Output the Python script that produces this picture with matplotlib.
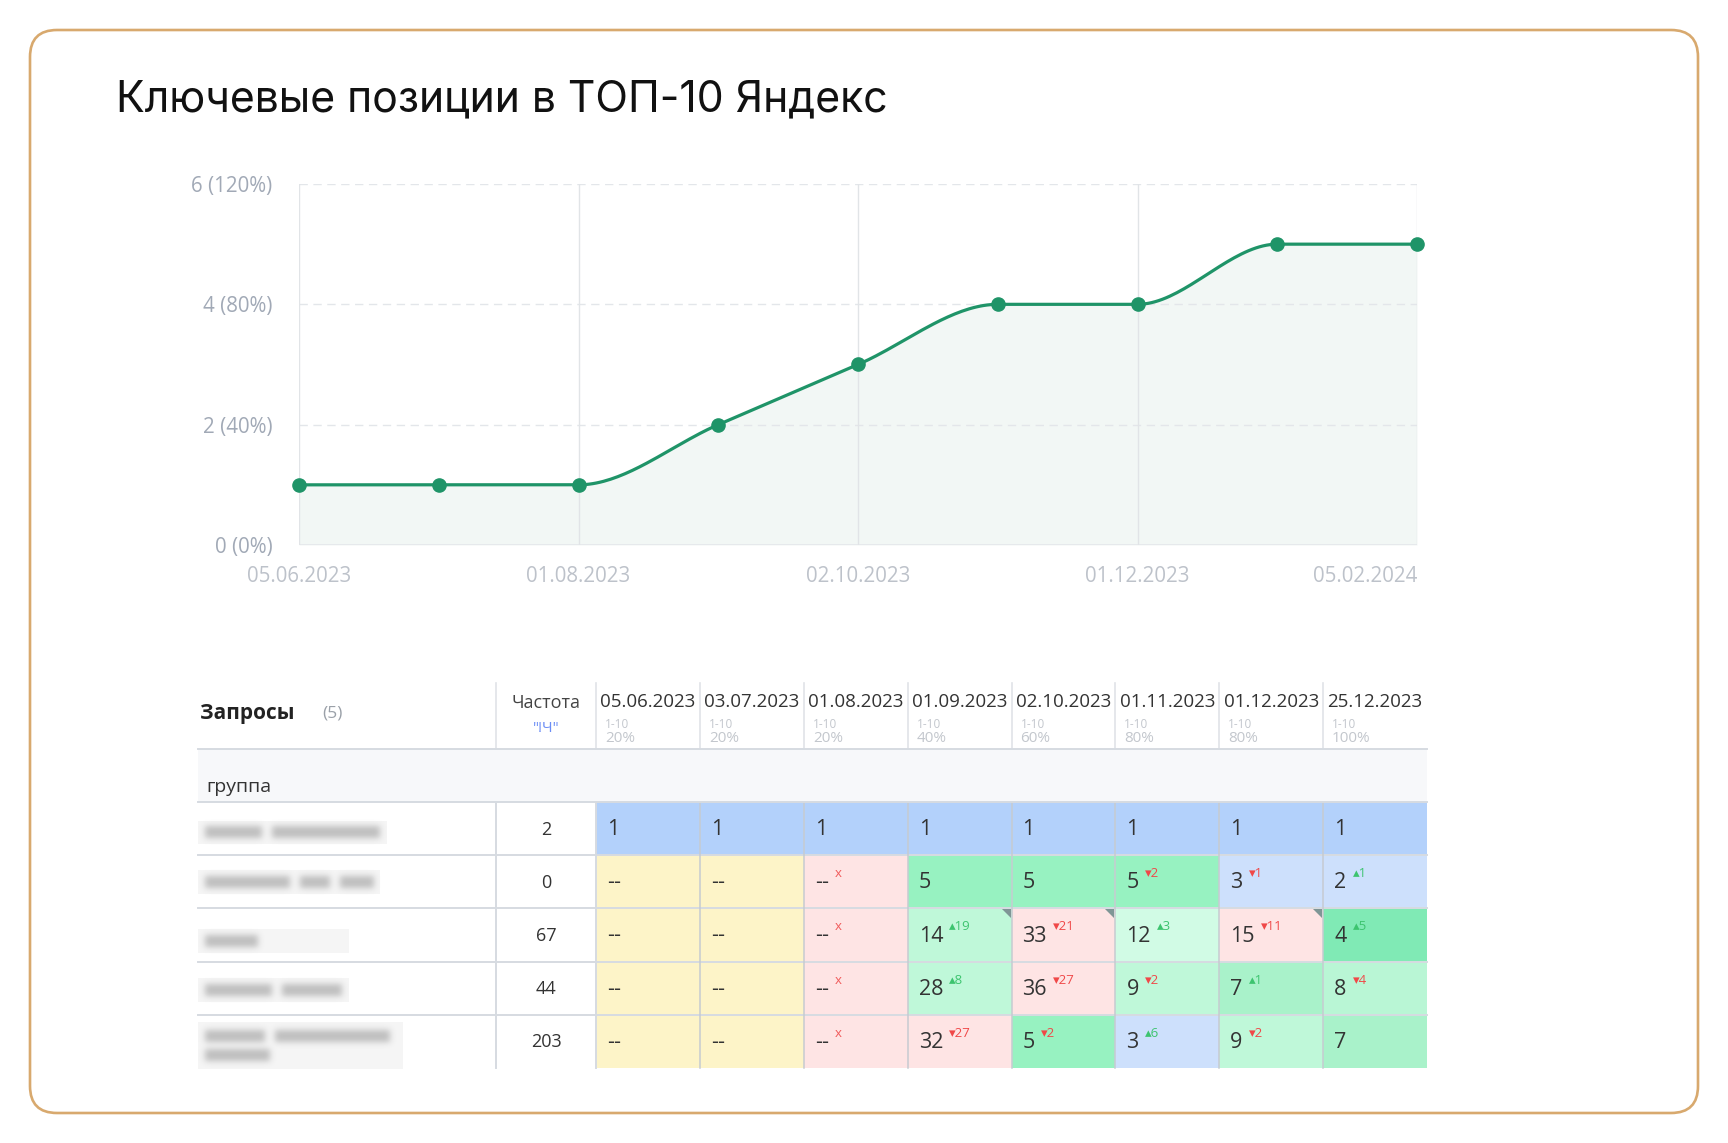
import numpy as np
import matplotlib
matplotlib.use("Agg")
import matplotlib.pyplot as plt
from matplotlib.patches import FancyBboxPatch, Rectangle, Polygon

plt.rcParams['font.family'] = ['Open Sans', 'DejaVu Sans']

# ---- данные графика
chart_dates = ['05.06.2023', '03.07.2023', '01.08.2023', '01.09.2023', '02.10.2023',
               '01.11.2023', '01.12.2023', '25.12.2023', '05.02.2024']
chart_top10 = [1, 1, 1, 2, 3, 4, 4, 5, 5]
total_queries = 5
x_tick_idx = [0, 2, 4, 6, 8]
y_ticks = [0, 2, 4, 6]

# ---- данные таблицы
table_dates = ['05.06.2023', '03.07.2023', '01.08.2023', '01.09.2023',
               '02.10.2023', '01.11.2023', '01.12.2023', '25.12.2023']
table_pct = ['20%', '20%', '20%', '40%', '60%', '80%', '80%', '100%']
freq = [2, 0, 67, 44, 203]
positions = [
    ['1', '1', '1', '1', '1', '1', '1', '1'],
    ['--', '--', '--', '5', '5', '5', '3', '2'],
    ['--', '--', '--', '14', '33', '12', '15', '4'],
    ['--', '--', '--', '28', '36', '9', '7', '8'],
    ['--', '--', '--', '32', '5', '3', '9', '7'],
]
changes = [
    ['', '', '', '', '', '', '', ''],
    ['', '', 'x', '', '', '-2', '-1', '+1'],
    ['', '', 'x', '+19', '-21', '+3', '-11', '+5'],
    ['', '', 'x', '+8', '-27', '-2', '+1', '-4'],
    ['', '', 'x', '-27', '-2', '+6', '-2', ''],
]
cell_kind = [
    ['top1'] * 8,
    ['new', 'new', 'lost', 'g5', 'g5', 'g5', 'b3', 'b3'],
    ['new', 'new', 'lost', 'g15', 'lost', 'g12', 'lost', 'g4'],
    ['new', 'new', 'lost', 'g15', 'lost', 'g15', 'g7', 'g8'],
    ['new', 'new', 'lost', 'lost', 'g5', 'b3', 'g15', 'g7'],
]
note_cells = [(2, 3), (2, 4), (2, 6)]

kind_color = {'top1': '#B3D1FB', 'new': '#FDF4C8', 'lost': '#FEE4E4',
              'g5': '#97F2C1', 'b3': '#CDE0FC', 'g15': '#BFF8D9',
              'g12': '#D1FBE5', 'g4': '#80EAB5', 'g7': '#A9F2CA', 'g8': '#B9F6D5'}

W, H = 1728, 1143
fig = plt.figure(figsize=(W / 100, H / 100), dpi=100)
bg = fig.add_axes([0, 0, 1, 1])
bg.axis('off')

# рамка
bg.add_patch(FancyBboxPatch((30, 30), 1668, 1083, boxstyle='round,pad=0,rounding_size=27',
                            ec='#D8A96E', fc='none', lw=1.9))
bg.text(116, 100, 'Ключевые позиции в ТОП-10 Яндекс', fontsize=30.8,
        family=['Inter', 'DejaVu Sans'], color='#111111', va='center', ha='left')


def monotone_curve(x, y, n=40):
    x = np.asarray(x, float)
    y = np.asarray(y, float)
    h = np.diff(x)
    d = np.diff(y) / h
    m = np.zeros_like(y)
    m[0], m[-1] = d[0], d[-1]
    for i in range(1, len(y) - 1):
        if d[i - 1] * d[i] > 0:
            m[i] = 2 / (1 / d[i - 1] + 1 / d[i])
    xs, ys = [], []
    for i in range(len(h)):
        t = np.linspace(0, 1, n)
        h00 = 2 * t**3 - 3 * t**2 + 1
        h10 = t**3 - 2 * t**2 + t
        h01 = -2 * t**3 + 3 * t**2
        h11 = t**3 - t**2
        xs.append(x[i] + t * h[i])
        ys.append(h00 * y[i] + h10 * h[i] * m[i] + h01 * y[i + 1] + h11 * h[i] * m[i + 1])
    return np.concatenate(xs), np.concatenate(ys)


# ---- график
L, R, T, B = 299, 1417, 184, 545
ax = fig.add_axes([L / W, 1 - B / H, (R - L) / W, (B - T) / H])
ax.set_facecolor('none')
x = np.arange(len(chart_top10))
xs, ys = monotone_curve(x, chart_top10)
ax.fill_between(xs, ys, 0, color='#F2F7F5', lw=0, zorder=0.5)
for yv in y_ticks[1:]:
    ax.axhline(yv, color='#E3E6EA', lw=1, ls=(0, (6, 4)), zorder=1)
ax.axhline(0, color='#E6E9EC', lw=1.4, zorder=1)
for xi in x_tick_idx:
    ax.axvline(xi, color='#E1E4E7', lw=1, zorder=1)
ax.plot(xs, ys, color='#1F9468', lw=2.3, zorder=3, clip_on=False)
ax.plot(x, chart_top10, 'o', ms=9.5, color='#1F9468', zorder=4, clip_on=False)
ax.set_xlim(0, len(chart_top10) - 1)
ax.set_ylim(0, 6)
for s in ax.spines.values():
    s.set_visible(False)
ax.set_yticks(y_ticks)
ax.set_yticklabels([f'{v} ({v * 100 // total_queries}%)' for v in y_ticks])
ax.set_xticks(x_tick_idx)
ax.set_xticklabels([chart_dates[i] for i in x_tick_idx])
ax.tick_params(axis='y', length=0, pad=19, labelsize=14.8, labelcolor='#A1A9B6')
ax.tick_params(axis='x', length=0, pad=15, labelsize=14.8, labelcolor='#BDC2CA')
ax.get_xticklabels()[-1].set_ha('right')

# ---- таблица
q_left, q_right, f_right, t_right = 198, 496, 596, 1427
cw = (t_right - f_right) / len(table_dates)
head_top, head_bot, grp_bot = 683, 749, 802
rh = 53.2
n_rows = len(freq)
tab_bot = grp_bot + rh * n_rows
line_c = '#D6DBE1'
cell_line = '#C6CBD1'

bg.text(200, 714, 'Запросы', fontsize=15, weight='bold', color='#222222', va='center')
bg.text(322, 714, f'({n_rows})', fontsize=12.5, color='#9AA0A8', va='center')
bg.text((q_right + f_right) / 2, 703, 'Частота', fontsize=13, color='#444444',
        va='center', ha='center')
bg.text((q_right + f_right) / 2, 728, '"!Ч"', fontsize=11, color='#6B8DF5',
        va='center', ha='center')
for j, d in enumerate(table_dates):
    cx = f_right + j * cw
    bg.text(cx + cw / 2, 702, d, fontsize=13.5, color='#333333', va='center', ha='center')
    bg.text(cx + 9, 725, '1-10', fontsize=8.5, color='#C3C7CD', va='center')
    bg.text(cx + 9, 739, table_pct[j], fontsize=11, color='#C3C7CD', va='center')

# разделители заголовка
for xv in [q_right, f_right] + [f_right + j * cw for j in range(1, len(table_dates))]:
    bg.plot([xv, xv], [head_top, head_bot], color='#E0E3E7', lw=1.2)

# строка группы
bg.add_patch(Rectangle((q_left, head_bot), t_right - q_left, grp_bot - head_bot,
                       fc='#F7F8FA', ec='none'))
bg.text(206, 787, 'группа', fontsize=14, color='#333333', va='center')

# ячейки
for i in range(n_rows):
    y0 = grp_bot + i * rh
    bg.text((q_right + f_right) / 2, y0 + rh / 2 + 1, str(freq[i]), fontsize=13,
            color='#333333', va='center', ha='center')
    for j in range(len(table_dates)):
        x0 = f_right + j * cw
        bg.add_patch(Rectangle((x0, y0), cw, rh, fc=kind_color[cell_kind[i][j]], ec='none'))
        t = bg.text(x0 + 11, y0 + rh / 2 + 1, positions[i][j], fontsize=15.5,
                    color='#333333', va='center')
        ch = changes[i][j]
        if ch:
            if ch == 'x':
                s, c = 'x', '#F05A5A'
            elif ch.startswith('+'):
                s, c = '▴' + ch[1:], '#3DC46F'
            else:
                s, c = '▾' + ch[1:], '#F04848'
            bg.annotate(s, xy=(1, 0.88), xycoords=t, xytext=(4.5, 5.5),
                        textcoords='offset points', fontsize=9.5, color=c,
                        va='top', ha='left')
    if i > 0:
        bg.plot([q_left, t_right], [y0, y0], color=line_c, lw=1.4, zorder=3)

# вертикальные линии ячеек
for j in range(1, len(table_dates)):
    xv = f_right + j * cw
    bg.plot([xv, xv], [grp_bot, tab_bot], color=cell_line, lw=1.1, zorder=3)

for (i, j) in note_cells:
    x1 = f_right + (j + 1) * cw
    y0 = grp_bot + i * rh
    bg.add_patch(Polygon([(x1 - 10, y0 + 1), (x1 - 1, y0 + 1), (x1 - 1, y0 + 10)],
                         closed=True, fc='#7F9696', ec='none', zorder=5))

bg.plot([q_left, t_right], [head_bot, head_bot], color=line_c, lw=1.4, zorder=3)
bg.plot([q_left, t_right], [grp_bot, grp_bot], color=line_c, lw=1.4, zorder=3)
for xv in [q_right, f_right]:
    bg.plot([xv, xv], [grp_bot, tab_bot], color=line_c, lw=1.4, zorder=3)

# размытые названия запросов
blur_boxes = [(198, 387, 821, 844), (198, 380, 870, 894), (198, 349, 929, 953),
              (198, 349, 978, 1002), (198, 403, 1022, 1069)]
blur_words = [
    [(205, 262, 832), (272, 380, 832)],
    [(205, 290, 882), (300, 330, 882), (340, 374, 882)],
    [(205, 258, 941)],
    [(205, 272, 990), (282, 342, 990)],
    [(205, 265, 1036), (275, 390, 1036), (205, 270, 1055)],
]
gx0, gx1, gy0, gy1 = 196, 420, 812, 1074
mask = np.zeros((gy1 - gy0, gx1 - gx0))
for words in blur_words:
    for (wx0, wx1, wy) in words:
        mask[wy - 6 - gy0:wy + 6 - gy0, wx0 - gx0:wx1 - gx0] = 0.42
kern = np.exp(-np.arange(-9, 10) ** 2 / (2 * 3.2 ** 2))
kern /= kern.sum()
mask = np.apply_along_axis(lambda r: np.convolve(r, kern, mode='same'), 1, mask)
mask = np.apply_along_axis(lambda c: np.convolve(c, kern, mode='same'), 0, mask)
for (bx0, bx1, by0, by1) in blur_boxes:
    bg.add_patch(Rectangle((bx0, by0), bx1 - bx0, by1 - by0, fc='#F5F5F5', ec='none', zorder=1))
rgba = np.zeros(mask.shape + (4,))
rgba[..., :3] = 0.45
rgba[..., 3] = mask
bg.imshow(rgba, extent=(gx0, gx1, gy1, gy0), aspect='auto', interpolation='bilinear', zorder=2)

bg.set_xlim(0, W)
bg.set_ylim(H, 0)

fig.savefig('out.png', dpi=100, facecolor='white')
